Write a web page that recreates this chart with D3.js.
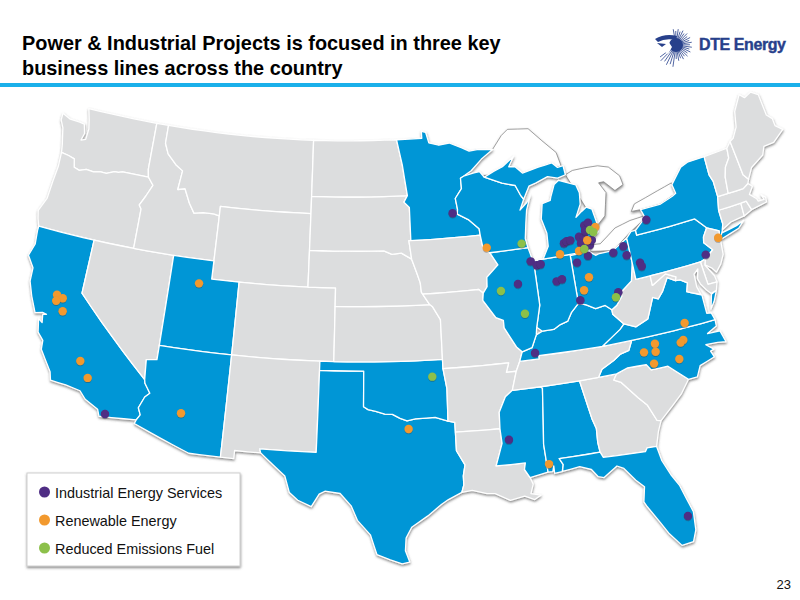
<!DOCTYPE html>
<html>
<head>
<meta charset="utf-8">
<script src="https://cdn.jsdelivr.net/npm/d3@7"></script>
<style>
  html, body { margin: 0; padding: 0; background: #fff; }
  svg { display: block; font-family: "Liberation Sans", Arial, sans-serif; }
</style>
</head>
<body>
<script>
/* global d3 */

// state outlines, [lon, lat]
const stateShapes = {
  WA: [[[-124.7,48.38],[-124,48.17],[-123.2,48.15],[-122.8,48.1],[-122.6,47.6],[-122.75,47.2],[-122.4,47.3],[-122.35,47.9],[-122.5,48.4],[-122.75,49],[-117.03,49],[-117.04,46.42],[-116.92,46],[-118.98,46],[-119.3,45.93],[-119.6,45.92],[-120.2,45.73],[-120.65,45.74],[-121.2,45.65],[-121.8,45.7],[-122.3,45.55],[-122.75,45.65],[-122.9,46.1],[-123.4,46.2],[-124,46.27],[-124.1,46.7],[-124.2,47],[-124.4,47.6],[-124.7,48]]],
  OR: [[[-124,46.27],[-123.4,46.2],[-122.9,46.1],[-122.75,45.65],[-122.3,45.55],[-121.8,45.7],[-121.2,45.65],[-120.65,45.74],[-120.2,45.73],[-119.6,45.92],[-119.3,45.93],[-118.98,46],[-116.92,46],[-116.46,45.6],[-116.85,44.95],[-117.22,44.4],[-117.03,44.2],[-117.03,42],[-124.2,42],[-124.4,42.4],[-124.55,42.84],[-124.15,43.6],[-124.07,44.6],[-123.96,45.5]]],
  CA: [[[-124.2,42],[-120,42],[-120,39],[-114.63,35],[-114.57,34.8],[-114.14,34.3],[-114.43,34.05],[-114.72,33.4],[-114.52,33.03],[-114.72,32.72],[-117.12,32.53],[-117.3,32.9],[-118.22,33.3],[-118.67,33.7],[-119.67,33.85],[-120.71,33.9],[-120.87,34.36],[-121.8,35.45],[-121.85,35.95],[-122.3,36.33],[-122.5,37.06],[-122.2,36.9],[-122.3,37.35],[-122.05,37.4],[-122.35,37.45],[-122.84,37.33],[-123.36,38.17],[-123.75,38.95],[-123.8,39.7],[-124.35,40.3],[-124.1,41],[-124.2,41.75]]],
  NV: [[[-120,42],[-114.04,42],[-114.04,36.2],[-114.75,36.1],[-114.63,35],[-120,39]]],
  ID: [[[-117.03,49],[-116.05,49],[-116.05,48],[-115.7,47.45],[-114.95,46.93],[-114.35,46.65],[-114.5,45.6],[-113.95,45.7],[-113.45,44.95],[-113,44.45],[-112.3,44.55],[-111.5,44.55],[-111.05,44.48],[-111.05,42],[-117.03,42],[-117.03,44.2],[-117.22,44.4],[-116.85,44.95],[-116.46,45.6],[-116.92,46],[-117.04,46.42]]],
  MT: [[[-116.05,49],[-104.05,49],[-104.05,45],[-111.05,45],[-111.05,44.48],[-111.5,44.55],[-112.3,44.55],[-113,44.45],[-113.45,44.95],[-113.95,45.7],[-114.5,45.6],[-114.35,46.65],[-114.95,46.93],[-115.7,47.45],[-116.05,48]]],
  WY: [[[-111.05,45],[-104.05,45],[-104.05,41],[-111.05,41]]],
  UT: [[[-114.04,42],[-111.05,42],[-111.05,41],[-109.05,41],[-109.05,37],[-114.04,37]]],
  CO: [[[-109.05,41],[-102.05,41],[-102.05,37],[-109.05,37]]],
  AZ: [[[-114.04,37],[-109.05,37],[-109.05,31.33],[-111.07,31.33],[-114.8,32.5],[-114.72,32.72],[-114.52,33.03],[-114.72,33.4],[-114.43,34.05],[-114.14,34.3],[-114.57,34.8],[-114.63,35],[-114.75,36.1],[-114.04,36.2]]],
  NM: [[[-109.05,37],[-103,37],[-103,32],[-106.62,32],[-106.53,31.78],[-108.2,31.78],[-108.2,31.33],[-109.05,31.33]]],
  TX: [[[-103,36.5],[-100,36.5],[-100,34.56],[-99.7,34.4],[-99.2,34.3],[-98.6,34.15],[-98.1,34.13],[-97.6,33.9],[-97.15,33.75],[-96.6,33.85],[-95.9,33.87],[-95.3,33.88],[-94.48,33.64],[-94.04,33.55],[-94.04,33.02],[-94.04,32],[-93.55,31.2],[-93.7,30.6],[-93.7,30.1],[-93.85,29.7],[-94.7,29.35],[-95.15,29.1],[-96,28.5],[-97,27.9],[-97.35,27.3],[-97.4,26.6],[-97.15,25.96],[-97.6,25.87],[-98.3,26.1],[-99.1,26.4],[-99.5,27.5],[-100.3,28.3],[-100.7,29.1],[-101.4,29.77],[-102.35,29.87],[-102.7,29.7],[-103.15,28.98],[-104,29.3],[-104.55,29.7],[-104.9,30.6],[-106,31.4],[-106.53,31.78],[-106.62,32],[-103,32]]],
  OK: [[[-103,37],[-94.62,37],[-94.62,36.5],[-94.43,35.4],[-94.48,33.64],[-95.3,33.88],[-95.9,33.87],[-96.6,33.85],[-97.15,33.75],[-97.6,33.9],[-98.1,34.13],[-98.6,34.15],[-99.2,34.3],[-99.7,34.4],[-100,34.56],[-100,36.5],[-103,36.5]]],
  KS: [[[-102.05,40],[-95.3,40],[-95.1,39.87],[-94.6,39.15],[-94.62,37],[-102.05,37]]],
  NE: [[[-104.05,43],[-98.5,43],[-97.9,42.8],[-97.2,42.85],[-96.45,42.5],[-96.1,41.7],[-95.9,41.2],[-95.85,40.7],[-95.3,40],[-102.05,40],[-102.05,41],[-104.05,41]]],
  SD: [[[-104.05,45.94],[-96.56,45.94],[-96.85,45.6],[-96.45,45.3],[-96.45,43.5],[-96.6,43.5],[-96.45,42.5],[-97.2,42.85],[-97.9,42.8],[-98.5,43],[-104.05,43]]],
  ND: [[[-104.05,49],[-97.23,49],[-96.85,47.6],[-96.56,45.94],[-104.05,45.94]]],
  MN: [[[-97.23,49],[-95.15,49],[-95.15,49.38],[-94.8,49.3],[-94.6,48.72],[-93.8,48.55],[-92.95,48.62],[-92,48.3],[-91.4,48.07],[-90.75,48.1],[-89.5,48],[-90.5,47.55],[-91.4,47],[-92.05,46.75],[-92.3,46.66],[-92.3,46.1],[-92.85,45.6],[-92.75,45],[-92.8,44.75],[-92,44.4],[-91.25,43.85],[-91.22,43.5],[-96.45,43.5],[-96.45,45.3],[-96.85,45.6],[-96.56,45.94],[-96.85,47.6]]],
  IA: [[[-96.45,43.5],[-91.22,43.5],[-91.1,42.75],[-90.65,42.5],[-90.15,41.8],[-91.05,41.2],[-91.1,40.7],[-91.42,40.38],[-91.72,40.6],[-95.77,40.58],[-95.85,40.7],[-95.9,41.2],[-96.1,41.7],[-96.45,42.5],[-96.6,43.5]]],
  MO: [[[-95.77,40.58],[-91.72,40.6],[-91.42,40.38],[-91.5,40],[-90.7,39],[-90.2,38.8],[-90.2,38.4],[-89.5,37.3],[-89.15,37],[-89.4,36.5],[-89.7,36],[-90.37,36],[-90.15,36.5],[-94.62,36.5],[-94.62,37],[-94.6,39.15],[-95.1,39.87],[-95.3,40]]],
  AR: [[[-94.62,36.5],[-90.15,36.5],[-90.37,36],[-89.7,36],[-90.1,35],[-90.6,34.7],[-91.1,33.9],[-91.15,33],[-94.04,33.02],[-94.04,33.55],[-94.48,33.64],[-94.43,35.4]]],
  LA: [[[-94.04,33.02],[-91.15,33],[-91.1,32.2],[-91.6,31],[-89.75,31],[-89.85,30.65],[-89.55,30.18],[-89.4,29.8],[-89.6,29.3],[-89,29.15],[-89.4,28.95],[-90,29.2],[-90.9,29.05],[-91.8,29.5],[-92.3,29.53],[-93.2,29.77],[-93.85,29.7],[-93.7,30.1],[-93.7,30.6],[-93.55,31.2],[-94.04,32]]],
  MS: [[[-90.1,35],[-88.2,35],[-88.1,34.9],[-88.47,31.9],[-88.4,30.35],[-89.55,30.18],[-89.85,30.65],[-89.75,31],[-91.6,31],[-91.1,32.2],[-91.15,33],[-91.1,33.9],[-90.6,34.7]]],
  AL: [[[-88.2,35],[-85.6,35],[-85.18,32.87],[-85,32.3],[-85.05,31.55],[-85,31],[-87.6,31],[-87.4,30.65],[-87.52,30.28],[-88,30.23],[-88,30.65],[-88.1,30.35],[-88.4,30.35],[-88.47,31.9],[-88.1,34.9]]],
  GA: [[[-85.6,35],[-83.1,35],[-83.35,34.7],[-82.9,34.5],[-82,33.5],[-81.5,33],[-81.1,32.1],[-80.85,32.03],[-81.15,31.5],[-81.45,30.72],[-82.05,30.75],[-82.2,30.57],[-84.86,30.7],[-85,31],[-85.05,31.55],[-85,32.3],[-85.18,32.87]]],
  FL: [[[-87.6,31],[-85,31],[-84.86,30.7],[-82.2,30.57],[-82.05,30.75],[-81.45,30.72],[-81.3,29.9],[-80.9,29],[-80.55,28.4],[-80.05,26.8],[-80.13,25.8],[-80.4,25.2],[-81.1,25.13],[-81.7,25.9],[-82.1,26.6],[-82.7,27.6],[-82.85,27.9],[-82.65,28.7],[-83.1,29.15],[-83.7,29.9],[-84.1,30.1],[-85,29.6],[-85.35,29.7],[-85.7,30.15],[-86.4,30.4],[-87.5,30.28],[-87.4,30.65]]],
  SC: [[[-83.1,35],[-82.3,35.2],[-81.05,35.15],[-80.8,34.82],[-79.67,34.8],[-78.55,33.85],[-79.2,33.2],[-79.9,32.7],[-80.85,32.03],[-81.1,32.1],[-81.5,33],[-82,33.5],[-82.9,34.5],[-83.35,34.7]]],
  NC: [[[-84.32,35],[-83.1,35],[-82.3,35.2],[-81.05,35.15],[-80.8,34.82],[-79.67,34.8],[-78.55,33.85],[-77.95,33.85],[-77.6,34.4],[-76.55,34.65],[-76.7,35],[-76.45,35.05],[-76.9,35.4],[-76.1,35.35],[-75.55,35.25],[-75.75,35.9],[-76.6,35.95],[-75.9,36.2],[-75.87,36.55],[-81.68,36.59],[-82,36.1],[-82.6,36],[-83.1,35.75],[-84,35.4]]],
  TN: [[[-90.1,35],[-88.2,35],[-85.6,35],[-84.32,35],[-84,35.4],[-83.1,35.75],[-82.6,36],[-82,36.1],[-81.68,36.59],[-83.68,36.6],[-88.07,36.68],[-88.07,36.5],[-89.4,36.5],[-89.7,36]]],
  KY: [[[-89.4,36.5],[-88.07,36.5],[-88.07,36.68],[-83.68,36.6],[-83.1,36.9],[-82.3,37.3],[-81.97,37.54],[-82.6,38.17],[-82.6,38.42],[-83,38.72],[-83.7,38.65],[-84.3,38.95],[-84.82,39.1],[-85.4,38.7],[-85.75,38.27],[-86.3,38.15],[-86.8,37.95],[-87.6,37.95],[-88.05,37.8],[-88.45,37.15],[-89.15,37]]],
  VA: [[[-83.68,36.6],[-81.68,36.59],[-75.87,36.55],[-76,36.95],[-76.3,37],[-76.3,37.55],[-76.3,38],[-77,38.3],[-77.25,38.4],[-77.05,38.85],[-77.5,39.1],[-77.83,39.13],[-78.35,39.4],[-78.87,38.77],[-79.3,38.42],[-79.65,38.58],[-80.3,37.52],[-81.2,37.25],[-81.97,37.54],[-82.3,37.3],[-83.1,36.9]],
       [[-75.95,37.15],[-75.65,37.9],[-75.25,38.03],[-75.6,37.5]]],
  WV: [[[-81.97,37.54],[-81.2,37.25],[-80.3,37.52],[-79.65,38.58],[-79.3,38.42],[-78.87,38.77],[-78.35,39.4],[-77.83,39.13],[-77.72,39.32],[-78.4,39.62],[-79.48,39.2],[-79.48,39.72],[-80.52,39.72],[-80.52,40.64],[-80.85,39.7],[-81.7,39.25],[-81.75,39],[-82.2,38.6],[-82.6,38.42],[-82.6,38.17]]],
  OH: [[[-84.82,41.7],[-83.45,41.73],[-83,41.45],[-82.7,41.5],[-81.7,41.5],[-80.52,41.98],[-80.52,40.64],[-80.85,39.7],[-81.7,39.25],[-81.75,39],[-82.2,38.6],[-82.6,38.42],[-83,38.72],[-83.7,38.65],[-84.3,38.95],[-84.82,39.1]]],
  IN: [[[-87.53,41.72],[-87.2,41.75],[-86.82,41.76],[-84.82,41.76],[-84.82,39.1],[-85.4,38.7],[-85.75,38.27],[-86.3,38.15],[-86.8,37.95],[-87.6,37.95],[-87.95,38.2],[-87.53,39.35]]],
  IL: [[[-90.65,42.5],[-87.8,42.5],[-87.6,41.85],[-87.53,41.72],[-87.53,39.35],[-87.95,38.2],[-88.05,37.8],[-88.45,37.15],[-89.15,37],[-89.5,37.3],[-90.2,38.4],[-90.2,38.8],[-90.7,39],[-91.5,40],[-91.42,40.38],[-91.1,40.7],[-91.05,41.2],[-90.15,41.8]]],
  WI: [[[-92.3,46.66],[-92.05,46.75],[-91.2,46.87],[-90.75,46.9],[-90.42,46.57],[-89.1,46.13],[-88.1,45.9],[-87.8,45.35],[-87.6,45.1],[-88,44.55],[-87.4,44.9],[-87.05,45.25],[-87.5,44.5],[-87.7,43.8],[-87.9,43],[-87.8,42.5],[-90.65,42.5],[-91.1,42.75],[-91.22,43.5],[-91.25,43.85],[-92,44.4],[-92.8,44.75],[-92.75,45],[-92.85,45.6],[-92.3,46.1]]],
  MI: [[[-86.82,41.76],[-84.82,41.76],[-83.45,41.73],[-83.15,42.05],[-83.1,42.3],[-82.5,42.65],[-82.42,43],[-82.6,43.9],[-83,44.07],[-83.4,43.9],[-83.9,43.65],[-83.4,44.3],[-83.3,44.9],[-83.45,45.35],[-84.7,45.78],[-85.1,45.6],[-85.5,45],[-85.6,44.8],[-86.25,44.7],[-86.5,43.9],[-86.25,43.1],[-86.3,42.4]],
       [[-90.42,46.57],[-89.1,46.13],[-88.1,45.9],[-87.8,45.35],[-87.6,45.1],[-87.05,45.75],[-86.5,45.85],[-85.5,46.08],[-84.75,45.9],[-84.1,46],[-84.15,46.5],[-84.6,46.47],[-85,46.77],[-86.1,46.67],[-87.4,46.5],[-87.9,46.9],[-88.4,46.95],[-87.9,47.47],[-88.9,47],[-89.6,46.83]]],
  PA: [[[-80.52,41.98],[-80.1,42.27],[-79.76,42.27],[-79.76,42],[-75.35,42],[-74.7,41.36],[-75.1,40.95],[-75.2,40.65],[-74.72,40.15],[-75.4,39.8],[-75.79,39.72],[-80.52,39.72]]],
  NY: [[[-79.76,42.27],[-79.05,42.7],[-78.9,42.9],[-79.05,43.27],[-77.5,43.28],[-76.5,43.5],[-76.2,43.6],[-76.3,44.1],[-75.3,44.85],[-74.7,45],[-73.35,45],[-73.4,44],[-73.25,43.6],[-73.27,42.75],[-73.5,42.05],[-73.5,41.3],[-73.65,41],[-73.8,40.8],[-74,40.7],[-73.9,41],[-74.7,41.36],[-75.35,42],[-79.76,42]],
       [[-74.03,40.6],[-73.75,40.85],[-72.6,40.97],[-72,41.1],[-72.5,40.8],[-73.9,40.55]]],
  NJ: [[[-74.7,41.36],[-73.9,41],[-74,40.7],[-74.25,40.47],[-74,40.45],[-74.1,39.75],[-74.45,39.3],[-74.9,38.95],[-75.15,39.25],[-75.55,39.5],[-75.4,39.8],[-74.72,40.15],[-75.2,40.65],[-75.1,40.95]]],
  DE: [[[-75.79,39.72],[-75.4,39.8],[-75.55,39.5],[-75.1,38.8],[-75.05,38.45],[-75.7,38.46]]],
  MD: [[[-79.48,39.72],[-75.79,39.72],[-75.7,38.46],[-75.05,38.45],[-75.25,38.03],[-75.65,37.95],[-75.9,38.2],[-76.2,38.6],[-76.3,38.9],[-76.1,39.4],[-76.45,39.2],[-76.5,38.5],[-76.35,38.05],[-77,38.3],[-77.25,38.4],[-77.05,38.85],[-77.5,39.1],[-77.83,39.13],[-77.72,39.32],[-78.4,39.62],[-79.48,39.2]]],
  CT: [[[-73.5,42.05],[-71.8,42.02],[-71.85,41.32],[-72.9,41.25],[-73.65,41],[-73.5,41.3]]],
  RI: [[[-71.8,42.02],[-71.38,42.02],[-71.2,41.5],[-71.85,41.32]]],
  MA: [[[-73.5,42.05],[-73.27,42.75],[-72.46,42.73],[-71.3,42.7],[-70.85,42.87],[-70.6,42.65],[-71,42.3],[-70.6,41.95],[-70.55,41.8],[-70.1,41.78],[-70.2,42.07],[-69.95,41.85],[-70,41.6],[-70.65,41.55],[-71.2,41.5],[-71.38,42.02],[-71.8,42.02]]],
  VT: [[[-73.35,45],[-71.5,45.02],[-71.6,44.5],[-72.05,44.1],[-72.3,43.6],[-72.46,42.73],[-73.27,42.75],[-73.25,43.6],[-73.4,44]]],
  NH: [[[-71.5,45.02],[-71.1,45.3],[-70.98,43.4],[-70.7,43.07],[-70.85,42.87],[-71.3,42.7],[-72.46,42.73],[-72.3,43.6],[-72.05,44.1],[-71.6,44.5]]],
  ME: [[[-71.1,45.3],[-70.8,45.4],[-70.3,45.9],[-70,46.7],[-69.22,47.46],[-68.9,47.2],[-68.3,47.35],[-67.8,47.07],[-67.78,45.9],[-67.45,45.6],[-67.45,45.2],[-67,44.85],[-68,44.4],[-68.8,44.4],[-69.1,44],[-70.2,43.6],[-70.7,43.07],[-70.98,43.4]]]
};

// the lakes only matter for their canadian shore line
const lakeShapes = [
  [[-92.05,46.75],[-89.5,48],[-88.65,48.68],[-88.08,48.96],[-86.4,48.81],[-85.46,48.04],[-84.5,47.27],[-84.3,46.5],[-87,46.5]],
  [[-84.1,46],[-83.5,46.15],[-82.5,46.15],[-81.5,46.1],[-80.7,45.9],[-80,45.3],[-79.9,44.8],[-80.6,44.6],[-81.3,45.2],[-81.7,45.2],[-81.3,44.6],[-81.75,43.4],[-82.42,43],[-83,44]],
  [[-83.15,42.05],[-82.5,42],[-81.2,42.65],[-80,42.85],[-78.9,42.9],[-79.05,42.7],[-80.1,42.27],[-81.7,41.5],[-83.45,41.73]],
  [[-79.05,43.27],[-79.75,43.3],[-79.4,43.65],[-77.5,44],[-76.3,44.2],[-76.2,43.6],[-77.5,43.28]]
];

const activeStates = ['CA','UT','AZ','TX','OK','MN','WI','IL','IN','MI','OH','KY','PA','NY','VA','NC','MS','AL','FL'];

const legendLabels = ['Industrial Energy Services', 'Renewable Energy', 'Reduced Emissions Fuel'];
const legendColors = ['#4f2d84', '#f2992e', '#8cc04a'];

// project sites, [lon, lat]
const industrialSites = [[-93.15,44.82],[-87.74,41.75],[-87.34,41.49],[-87.05,41.51],[-88.87,40.64],[-86.09,40.47],[-85.69,40.53],[-84.42,41.26],[-83.55,41.51],[-85.12,42.41],[-84.9,42.49],[-84.62,42.5],[-83.94,42.6],[-83.58,42.55],[-83.88,42.24],[-83.26,42.05],[-83.06,42.29],[-83.4,43.14],[-83.09,43.24],[-83.42,42.85],[-81.7,41.38],[-80.89,41.6],[-80.79,41.09],[-79.97,40.54],[-79.91,40.33],[-78.81,42.67],[-75.29,40.01],[-81.92,39.26],[-84.65,39.25],[-88.29,36.84],[-116.77,32.72],[-90.64,32.36],[-80.42,26.64]];
const renewableSites = [[-111.92,40.68],[-121.68,38.6],[-121.23,38.48],[-121.63,38.26],[-121.02,37.78],[-119.08,35.32],[-118.36,34.49],[-111.92,33.47],[-97.06,33.31],[-88.28,30.78],[-90.83,42.79],[-85.54,41.87],[-84.13,41.85],[-83.39,42.33],[-82.62,42.93],[-83.76,40.37],[-84.27,39.74],[-74.1,40.67],[-77.92,36.82],[-78.28,35.96],[-78.49,35.86],[-80.19,36.14],[-80.26,35.71],[-81.03,35.82],[-78.83,35.03],[-80.53,35.11]];
const reducedSites = [[-88.22,42.76],[-90.14,40.39],[-88.64,39.01],[-83.72,41.9],[-83.05,42.84],[-82.84,42.69],[-82.15,39.03],[-95.37,36.1]];

const svg = d3.select('body').append('svg')
  .attr('width', 800)
  .attr('height', 600);

const defs = svg.append('defs');
const shadow = defs.append('filter').attr('id', 'shade')
  .attr('x', '-10%').attr('y', '-10%').attr('width', '120%').attr('height', '120%');
shadow.append('feDropShadow')
  .attr('dx', 0.3).attr('dy', 1.5).attr('stdDeviation', 1)
  .attr('flood-color', '#555').attr('flood-opacity', 0.7);
const dotShadow = defs.append('filter').attr('id', 'dotshade')
  .attr('x', '-30%').attr('y', '-30%').attr('width', '160%').attr('height', '160%');
dotShadow.append('feDropShadow')
  .attr('dx', 0).attr('dy', 0.7).attr('stdDeviation', 0.4)
  .attr('flood-color', '#333').attr('flood-opacity', 0.5);

// the map in the slide is a slightly skewed albers, these numbers were fitted
// against the state corners of the picture
const albers = d3.geoAlbers().rotate([96, 0]).center([0, 38]).parallels([35, 45]).scale(1000).translate([0, 0]);
const xCoef = [421.515, 1.0514, 0.0449093, 0.00000190421, 0.00000603567, -0.0000385256];
const yCoef = [342.092, -0.0503879, 1.05482, -0.0000222924, 0.0000696691, -0.000015959];
const project = lonLat => {
  const [X, Y] = albers(lonLat);
  const terms = [1, X, Y, X * X, X * Y, Y * Y];
  return [d3.sum(terms, (t, i) => t * xCoef[i]), d3.sum(terms, (t, i) => t * yCoef[i])];
};

// long straight borders have to follow the parallels, so add points in between
const densify = ring => {
  const out = [];
  ring.forEach((p, i) => {
    const q = ring[(i + 1) % ring.length];
    const n = Math.max(1, Math.ceil(Math.max(Math.abs(q[0] - p[0]), Math.abs(q[1] - p[1]))));
    for (let k = 0; k < n; k++) {
      out.push([p[0] + (q[0] - p[0]) * k / n, p[1] + (q[1] - p[1]) * k / n]);
    }
  });
  return out;
};
const ringLine = d3.line().x(d => project(d)[0]).y(d => project(d)[1]);
const ringPath = ring => ringLine(densify(ring)) + 'Z';

// lakes
svg.append('g').selectAll('path')
  .data(lakeShapes)
  .enter().append('path')
    .attr('d', ringPath)
    .attr('fill', '#fff')
    .attr('stroke', '#7d7d7d')
    .attr('stroke-width', 0.7)
    .attr('filter', 'url(#shade)');

// states
svg.append('g')
  .attr('filter', 'url(#shade)')
  .selectAll('path')
  .data(Object.keys(stateShapes))
  .enter().append('path')
    .attr('d', d => stateShapes[d].map(ringPath).join(''))
    .attr('fill', d => activeStates.includes(d) ? '#0096d6' : '#dcddde')
    .attr('stroke', '#fff')
    .attr('stroke-width', 1.3)
    .attr('stroke-linejoin', 'round');

// dots
const drawDots = (data, color) => {
  svg.append('g').selectAll('circle')
    .data(data)
    .enter().append('circle')
      .attr('cx', d => project(d)[0])
      .attr('cy', d => project(d)[1])
      .attr('r', 4.2)
      .attr('fill', color)
      .attr('filter', 'url(#dotshade)');
};
drawDots(industrialSites, legendColors[0]);
drawDots(renewableSites, legendColors[1]);
drawDots(reducedSites, legendColors[2]);

// legend
svg.append('rect')
  .attr('x', 27).attr('y', 473)
  .attr('width', 213).attr('height', 93)
  .attr('fill', '#fff')
  .attr('stroke', '#cfcfcf')
  .attr('filter', 'url(#shade)');
const legendRow = svg.selectAll('.row')
  .data(legendLabels)
  .enter().append('g')
    .attr('class', 'row')
    .attr('transform', (d, i) => `translate(0,${492 + i * 28})`);
legendRow.append('circle')
  .attr('cx', 44.5)
  .attr('r', 5.5)
  .attr('fill', (d, i) => legendColors[i]);
legendRow.append('text')
  .attr('x', 55)
  .attr('y', 6)
  .attr('font-size', 14.4)
  .attr('fill', '#111')
  .text(d => d);

// header
const titleLines = ['Power & Industrial Projects is focused in three key', 'business lines across the country'];
svg.selectAll('.title')
  .data(titleLines)
  .enter().append('text')
    .attr('class', 'title')
    .attr('x', 22)
    .attr('y', (d, i) => 50 + i * 25)
    .attr('font-size', 19.9)
    .attr('font-weight', 'bold')
    .attr('fill', '#000')
    .text(d => d);
svg.append('rect')
  .attr('x', 0).attr('y', 83)
  .attr('width', 800).attr('height', 4)
  .attr('fill', '#1ab0ea');
svg.append('text')
  .attr('x', 791).attr('y', 589)
  .attr('text-anchor', 'end')
  .attr('font-size', 13)
  .attr('fill', '#111')
  .text('23');

// logo, sun rays behind a dark head
const logoBlue = '#27408b';
const logo = svg.append('g').attr('stroke', logoBlue).attr('fill', 'none');
d3.range(-100, 150, 9).forEach((a, i) => {
  const t = a * Math.PI / 180;
  const outer = (a > 90 ? 22 : 16) - (i % 2) * 2;
  logo.append('line')
    .attr('x1', 676 + 5 * Math.cos(t)).attr('y1', 45 + 5 * Math.sin(t))
    .attr('x2', 676 + outer * Math.cos(t)).attr('y2', 45 + outer * Math.sin(t))
    .attr('stroke-width', 0.8);
});
logo.append('circle')
  .attr('cx', 676).attr('cy', 45).attr('r', 7)
  .attr('fill', logoBlue).attr('stroke', 'none');
logo.append('path')
  .attr('d', 'M655,39 Q665,33 677,36 L676,40 Q665,38 658,42Z')
  .attr('fill', logoBlue).attr('stroke', 'none');
logo.append('path')
  .attr('d', 'M656,44 L668,41 L672,47 L668,54 L662,50 L664,47Z')
  .attr('fill', '#fff').attr('stroke', 'none');
logo.append('path')
  .attr('d', 'M657,43 L666,44 L662,47Z')
  .attr('fill', logoBlue).attr('stroke', 'none');
svg.append('text')
  .attr('x', 699).attr('y', 50)
  .attr('font-size', 16)
  .attr('font-weight', 'bold')
  .attr('fill', logoBlue)
  .attr('stroke', logoBlue)
  .attr('stroke-width', 0.4)
  .attr('textLength', 87)
  .text('DTE Energy');
</script>
</body>
</html>
